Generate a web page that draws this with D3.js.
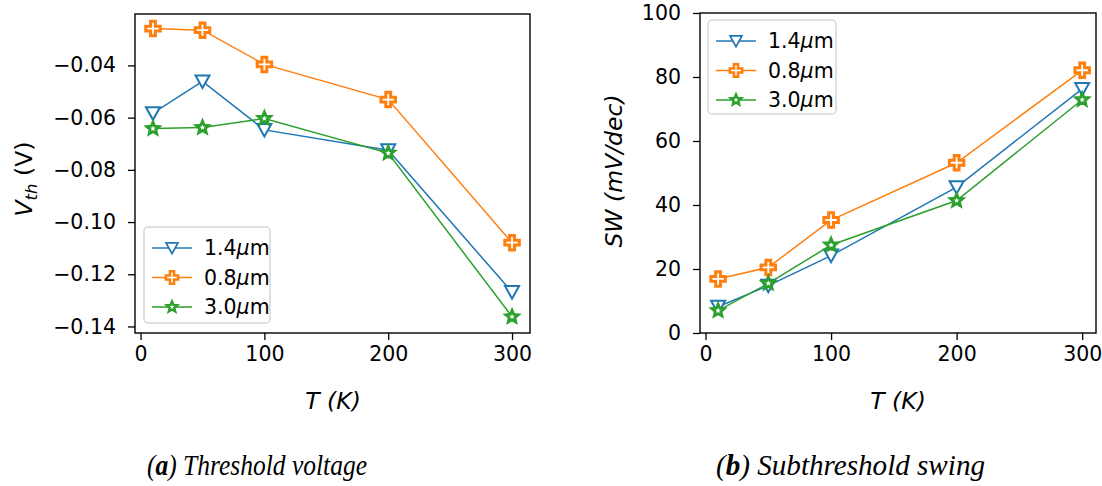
<!DOCTYPE html>
<html><head><meta charset="utf-8">
<script src="https://cdn.jsdelivr.net/npm/d3@7"></script>
<style>
body{margin:0;background:#fff;}
svg{display:block;}
text{fill:#000;}
</style></head>
<body>
<svg id="c" width="1102" height="486"></svg>
<script>
const temps = [10, 50, 100, 200, 300];
const seriesNames = ["1.4", "0.8", "3.0"];
const vth14 = [-0.0583, -0.0461, -0.0647, -0.0725, -0.1268];
const vth08 = [-0.0259, -0.0265, -0.0396, -0.0531, -0.1079];
const vth30 = [-0.0642, -0.0638, -0.0603, -0.0736, -0.1363];
const sw14 = [8.2, 14.8, 24.2, 45.6, 76.3];
const sw08 = [16.9, 20.5, 35.3, 53.2, 82.1];
const sw30 = [7.0, 15.5, 27.5, 41.4, 72.9];
const xTicks = [0, 100, 200, 300];
const vthTicks = [-0.04, -0.06, -0.08, -0.10, -0.12, -0.14];
const swTicks = [0, 20, 40, 60, 80, 100];
const colors = ["#1f77b4", "#ff7f0e", "#2ca02c"];
const markers = ["tri", "plus", "star"];

const SANS = "DejaVu Sans, sans-serif";
const svg = d3.select("#c");

function markerPath(type, s) {
  const r = s / 2;
  if (type === "tri") {
    return `M${-r},${-r*0.85}L${r},${-r*0.85}L0,${r*0.95}Z`;
  }
  if (type === "plus") {
    const a = r, b = r / 3;
    return `M${-b},${-a}H${b}V${-b}H${a}V${b}H${b}V${a}H${-b}V${b}H${-a}V${-b}H${-b}Z`;
  }
  let p = "";
  for (let i = 0; i < 10; i++) {
    const rr = i % 2 === 0 ? r : r * 0.45;
    const ang = -Math.PI / 2 + i * Math.PI / 5;
    p += (i === 0 ? "M" : "L") + (rr * Math.cos(ang)).toFixed(2) + "," + (rr * Math.sin(ang)).toFixed(2);
  }
  return p + "Z";
}
const markerSize = {tri: 14, plus: 14.5, star: 13};
const markerStroke = {tri: 2, plus: 3, star: 2.8};

function drawMarker(g, type, color, x, y, scale) {
  g.append("path")
    .attr("d", markerPath(type, markerSize[type] * scale))
    .attr("transform", `translate(${x},${y})`)
    .attr("fill", "#fff")
    .attr("stroke", color)
    .attr("stroke-width", markerStroke[type] * scale)
    .attr("stroke-linejoin", "miter");
}

function panel(opts) {
  const {left, right, top, bottom, xDomain, yDomain, yTicks, yFmt, data, legend} = opts;
  const x = d3.scaleLinear().domain(xDomain).range([left, right]);
  const y = d3.scaleLinear().domain(yDomain).range([bottom, top]);
  const g = svg.append("g");

  const xAxis = d3.axisBottom(x).tickValues(xTicks).tickSize(7).tickPadding(6).tickFormat(d3.format("d"));
  const gx = g.append("g").attr("transform", `translate(0,${bottom})`).call(xAxis);
  const yAxis = d3.axisLeft(y).tickValues(yTicks).tickSize(7).tickPadding(12).tickFormat(yFmt);
  const gy = g.append("g").attr("transform", `translate(${left},0)`).call(yAxis);
  [gx, gy].forEach(a => {
    a.attr("font-family", SANS).attr("font-size", 20.5);
    a.select(".domain").remove();
    a.selectAll(".tick line").attr("stroke", "#000").attr("stroke-width", 1.3);
    a.selectAll(".tick text").attr("fill", "#000");
  });

  data.forEach((vals, i) => {
    const pts = temps.map((t, k) => [x(t), y(vals[k])]);
    g.append("path").attr("d", d3.line()(pts)).attr("fill", "none")
      .attr("stroke", colors[i]).attr("stroke-width", 1.5);
    pts.forEach(p => drawMarker(g, markers[i], colors[i], p[0], p[1], 1));
  });

  g.append("rect").attr("x", left).attr("y", top).attr("width", right - left).attr("height", bottom - top)
    .attr("fill", "none").attr("stroke", "#000").attr("stroke-width", 1.4);

  const lg = g.append("g");
  lg.append("rect").attr("x", legend.x).attr("y", legend.y).attr("width", legend.w).attr("height", legend.h)
    .attr("rx", 4).attr("fill", "#fff").attr("fill-opacity", 0.8).attr("stroke", "#d6d6d6").attr("stroke-width", 1.5);
  seriesNames.forEach((name, i) => {
    const yy = legend.y + 21 + i * 29.5;
    lg.append("line").attr("x1", legend.x + 8).attr("x2", legend.x + 48).attr("y1", yy).attr("y2", yy)
      .attr("stroke", colors[i]).attr("stroke-width", 1.5);
    drawMarker(lg, markers[i], colors[i], legend.x + 28, yy, 0.85);
    const t = lg.append("text").attr("x", legend.x + 60).attr("y", yy).attr("dy", "0.36em")
      .attr("font-family", SANS).attr("font-size", 20.5);
    t.append("tspan").text(name);
    t.append("tspan").attr("font-style", "italic").text("\u03bc");
    t.append("tspan").text("m");
  });
  return {x, y, g};
}

panel({
  left: 135, right: 530, top: 14, bottom: 333,
  xDomain: [-4.5, 314.5], yDomain: [-0.1425, -0.0203],
  yTicks: vthTicks, yFmt: d => d3.format(".2f")(d).replace("-", "\u2212"),
  data: [vth14, vth08, vth30],
  legend: {x: 144, y: 227, w: 126, h: 96}
});
panel({
  left: 700, right: 1096, top: 13, bottom: 333,
  xDomain: [-4.4, 311], yDomain: [0, 100],
  yTicks: swTicks, yFmt: d3.format("d"),
  data: [sw14, sw08, sw30],
  legend: {x: 708, y: 20, w: 128, h: 94}
});

function xLabel(cx) {
  const t = svg.append("text").attr("x", cx).attr("y", 409).attr("text-anchor", "middle")
    .attr("font-family", SANS).attr("font-size", 23.5);
  t.append("tspan").attr("font-style", "italic").text("T");
  t.append("tspan").text(" ");
  t.append("tspan").attr("font-style", "italic").text("(K)");
}
xLabel(333);
xLabel(898);

const yl1 = svg.append("text").attr("transform", "translate(32,179) rotate(-90)").attr("text-anchor", "middle")
  .attr("font-family", SANS).attr("font-size", 23.5);
yl1.append("tspan").attr("font-style", "italic").text("V");
yl1.append("tspan").attr("font-style", "italic").attr("font-size", 16.5).attr("dy", 5).text("th");
yl1.append("tspan").attr("dy", -5).text(" (V)");

const yl2 = svg.append("text").attr("transform", "translate(622,171) rotate(-90)").attr("text-anchor", "middle")
  .attr("font-family", SANS).attr("font-size", 23.5);
yl2.append("tspan").attr("font-style", "italic").text("SW (mV/dec)");

function caption(x, w, letter, rest) {
  const t = svg.append("text").attr("x", x).attr("y", 475)
    .style("font-family", "'Liberation Serif', 'Times New Roman', serif").attr("font-style", "italic").attr("font-size", 29)
    .attr("textLength", w).attr("lengthAdjust", "spacingAndGlyphs");
  t.append("tspan").text("(");
  t.append("tspan").attr("font-weight", "bold").text(letter);
  t.append("tspan").text(") " + rest);
}
caption(147, 220, "a", "Threshold voltage");
caption(716, 269, "b", "Subthreshold swing");
</script>
</body></html>
